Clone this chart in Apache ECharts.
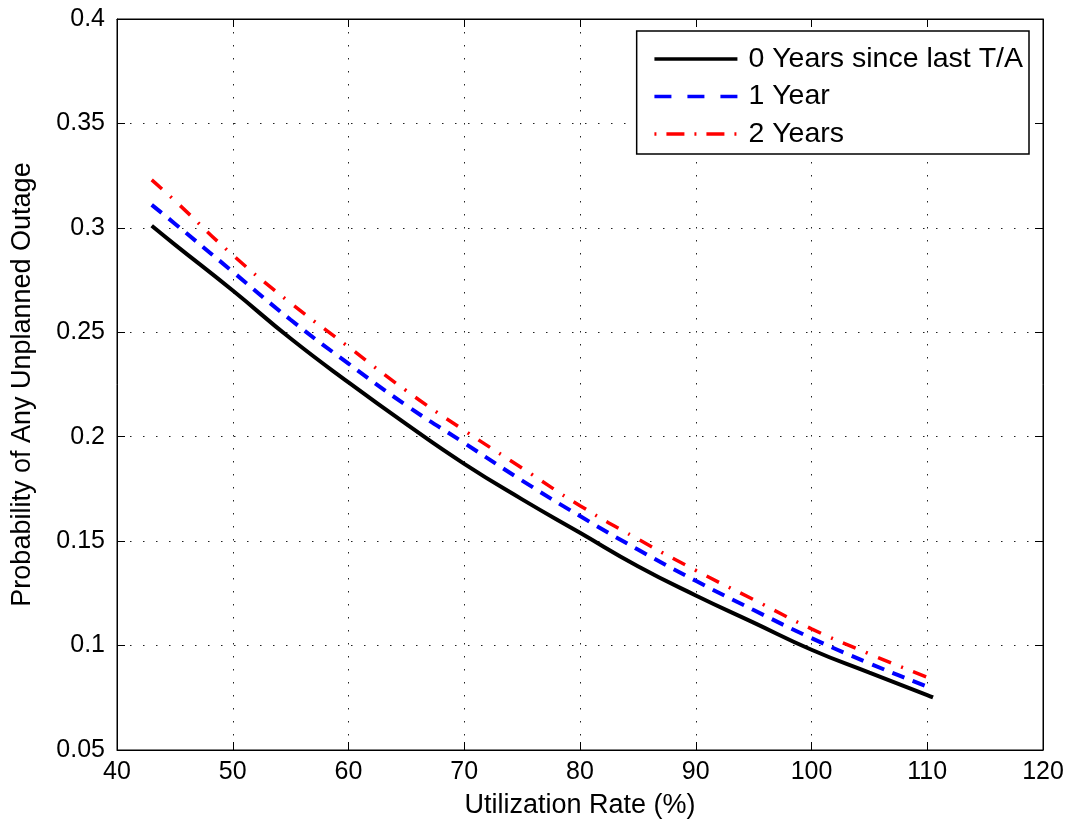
<!DOCTYPE html>
<html>
<head>
<meta charset="utf-8">
<script src="https://cdn.jsdelivr.net/npm/echarts@6/dist/echarts.min.js"></script>
<style>html,body{margin:0;padding:0;background:#fff}#c{width:1071px;height:827px}</style>
</head>
<body>
<div id="c"></div>
<script>
const utilization = [43, 45, 50, 55, 60, 65, 70, 75, 80, 85, 90, 95, 100, 105, 110, 110.5];
const years0 = [0.301, 0.292, 0.270, 0.247, 0.226, 0.206, 0.187, 0.170, 0.154, 0.138, 0.124, 0.111, 0.098, 0.087, 0.0763, 0.0752];
const years1 = [0.311, 0.302, 0.279, 0.256, 0.235, 0.215, 0.197, 0.179, 0.162, 0.146, 0.131, 0.117, 0.1036, 0.0915, 0.0803, 0.0793];
const years2 = [0.323, 0.313, 0.287, 0.264, 0.243, 0.222, 0.203, 0.185, 0.167, 0.151, 0.136, 0.122, 0.108, 0.096, 0.0848, 0.0838];
const seriesNames = ['0 Years since last T/A', '1 Year', '2 Years'];

const pairs = ys => utilization.map((x, i) => [x, ys[i]]);
const FONT = 'Liberation Sans, Arial, Helvetica, sans-serif';
const grid = {type: [1.5, 11.5], color: '#222', width: 1};

const chart = echarts.init(document.getElementById('c'), null, {renderer: 'canvas'});
chart.setOption({
  animation: false,
  backgroundColor: '#fff',
  grid: {left: 117, right: 28, top: 19, bottom: 77, show: true, borderColor: '#000', borderWidth: 1},
  legend: {
    orient: 'vertical', right: 42, top: 31,
    backgroundColor: '#fff', borderColor: '#000', borderWidth: 1.5,
    padding: [13, 6, 5, 16], itemGap: 7.5,
    itemWidth: 83, itemHeight: 20,
    itemStyle: {opacity: 0},
    textStyle: {fontFamily: FONT, fontSize: 28.5, lineHeight: 30, color: '#000', padding: [0, 0, 0, 6]},
    data: [
      {name: seriesNames[0], lineStyle: {width: 3.5}},
      {name: seriesNames[1], lineStyle: {width: 3.5, type: [17, 16]}},
      {name: seriesNames[2], lineStyle: {width: 3.5, type: [2, 10, 18, 10]}}
    ]
  },
  xAxis: [{
    type: 'value', min: 40, max: 120, interval: 10,
    name: 'Utilization Rate (%)', nameLocation: 'middle', nameGap: 42,
    nameTextStyle: {fontFamily: FONT, fontSize: 27, color: '#000'},
    axisLine: {show: true, lineStyle: {color: '#000', width: 1}},
    axisTick: {show: true, inside: true, length: 8, lineStyle: {color: '#000'}},
    axisLabel: {fontFamily: FONT, fontSize: 25, color: '#000', margin: 10},
    splitLine: {show: true, lineStyle: grid}
  }, {
    type: 'value', min: 40, max: 120, interval: 10, position: 'top',
    axisLine: {show: true, lineStyle: {color: '#000'}},
    axisTick: {show: true, inside: true, length: 8, lineStyle: {color: '#000'}},
    axisLabel: {show: false}, splitLine: {show: false}
  }],
  yAxis: [{
    type: 'value', min: 0.05, max: 0.4, interval: 0.05,
    name: 'Probability of Any Unplanned Outage', nameLocation: 'middle', nameGap: 81,
    nameTextStyle: {fontFamily: FONT, fontSize: 27, color: '#000'},
    axisLine: {show: true, lineStyle: {color: '#000', width: 1}},
    axisTick: {show: true, inside: true, length: 8, lineStyle: {color: '#000'}},
    axisLabel: {fontFamily: FONT, fontSize: 25, color: '#000', margin: 12,
      formatter: v => String(Math.round(v * 100) / 100)},
    splitLine: {show: true, lineStyle: grid}
  }, {
    type: 'value', min: 0.05, max: 0.4, interval: 0.05, position: 'right',
    axisLine: {show: true, lineStyle: {color: '#000'}},
    axisTick: {show: true, inside: true, length: 8, lineStyle: {color: '#000'}},
    axisLabel: {show: false}, splitLine: {show: false}
  }],
  series: [{
    name: seriesNames[0], type: 'line', data: pairs(years0), smooth: true, showSymbol: false, symbol: 'none',
    lineStyle: {color: '#000', width: 4}, itemStyle: {color: '#000'}
  }, {
    name: seriesNames[1], type: 'line', data: pairs(years1), smooth: true, showSymbol: false, symbol: 'none',
    lineStyle: {color: '#0000ff', width: 4, type: [13, 9]}, itemStyle: {color: '#0000ff'}
  }, {
    name: seriesNames[2], type: 'line', data: pairs(years2), smooth: true, showSymbol: false, symbol: 'none',
    lineStyle: {color: '#ff0000', width: 3.5, type: [14, 11, 2, 11]}, itemStyle: {color: '#ff0000'}
  }]
});
</script>
</body>
</html>
